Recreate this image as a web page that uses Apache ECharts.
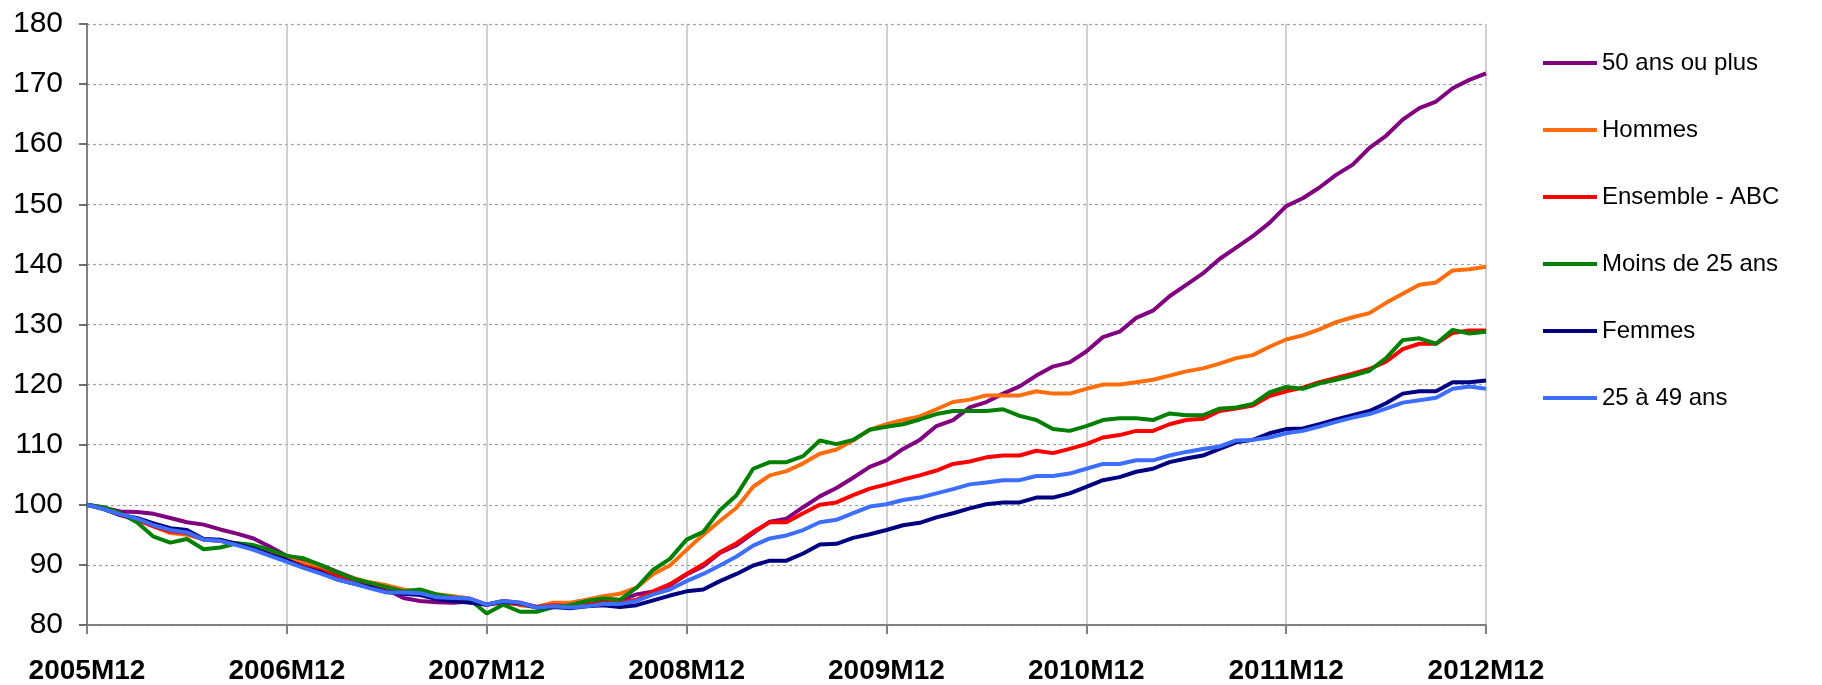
<!DOCTYPE html>
<html>
<head>
<meta charset="utf-8">
<script src="https://cdn.jsdelivr.net/npm/echarts@6/dist/echarts.min.js"></script>
<style>
  html, body { margin: 0; padding: 0; background: #fff; }
  #chart { width: 1822px; height: 685px; }
</style>
</head>
<body>
<div id="chart"></div>
<script>
// monthly labels 2005M12 .. 2012M12
var months = [];
for (var y = 2005, m = 12; months.length < 85; ) {
  months.push(y + 'M' + (m < 10 ? '0' + m : m));
  m++;
  if (m > 12) { m = 1; y++; }
}

var seriesNames = ['50 ans ou plus', 'Hommes', 'Ensemble - ABC', 'Moins de 25 ans', 'Femmes', '25 à 49 ans'];
var seriesColors = ['#800080', '#ff6d0d', '#ff0000', '#008000', '#000080', '#3c6eff'];

var plus50 = [
  100, 99.5, 98.9, 98.8, 98.5, 97.8, 97.1, 96.7, 95.9, 95.2, 94.4, 93.0, 91.5, 90.8, 90.0, 88.9, 87.8, 86.8, 85.9, 84.5, 84.0, 83.8, 83.7, 83.9,
  83.3, 84.0, 83.7, 83.0, 83.3, 83.1, 83.5, 83.9, 84.1, 85.1, 85.6, 86.6, 88.4, 89.8, 92.0, 93.3, 95.3, 97.2, 97.7, 99.6, 101.4,
  102.8, 104.5, 106.3, 107.4, 109.3, 110.8, 113.1, 114.1, 116.2, 117.1, 118.5, 119.7, 121.5, 123.0, 123.7, 125.5, 127.9, 128.8, 131.1, 132.3,
  134.7, 136.6, 138.5, 140.9, 142.8, 144.7, 146.9, 149.7, 151.0, 152.8, 154.9, 156.6, 159.4, 161.4, 164.1, 166.0, 167.1, 169.3, 170.7, 171.8
];
var hommes = [
  100, 99.4, 98.4, 97.6, 96.4, 95.3, 95.0, 94.3, 94.0, 93.6, 93.0, 92.0, 91.0, 90.3, 89.6, 88.7, 87.8, 87.1, 86.6, 85.9, 85.5, 85.1, 84.8, 84.4,
  83.4, 84.0, 83.3, 83.0, 83.7, 83.7, 84.2, 84.8, 85.2, 86.2, 88.5, 89.9, 92.5, 95.0, 97.3, 99.5, 103.0, 104.9, 105.6, 106.9, 108.5,
  109.2, 110.7, 112.5, 113.4, 114.1, 114.7, 115.9, 117.1, 117.5, 118.2, 118.2, 118.2, 118.9, 118.5, 118.5, 119.3, 120.0, 120.0, 120.4, 120.8,
  121.5, 122.2, 122.7, 123.5, 124.4, 124.9, 126.3, 127.5, 128.2, 129.2, 130.4, 131.2, 131.9, 133.6, 135.1, 136.6, 137.0, 139.0, 139.2, 139.6
];
var ensemble = [
  100, 99.4, 98.3, 97.5, 96.4, 95.6, 95.3, 94.2, 94.0, 93.5, 92.8, 91.8, 90.8, 89.8, 89.1, 88.2, 87.5, 86.7, 86.0, 85.6, 85.4, 84.9, 84.5, 84.2,
  83.4, 83.7, 83.5, 83.0, 83.3, 83.1, 83.4, 83.7, 83.7, 84.2, 85.6, 86.8, 88.5, 90.1, 92.1, 93.6, 95.5, 97.1, 97.1, 98.6, 100.0,
  100.4, 101.6, 102.7, 103.4, 104.2, 104.9, 105.7, 106.8, 107.2, 107.9, 108.2, 108.2, 109.0, 108.6, 109.3, 110.1, 111.2, 111.6, 112.3, 112.3,
  113.4, 114.1, 114.3, 115.6, 116.0, 116.5, 118.1, 118.9, 119.5, 120.4, 121.1, 121.8, 122.6, 123.8, 125.9, 126.8, 126.8, 128.6, 129.0, 129.0
];
var moins25 = [
  100, 99.6, 98.6, 97.1, 94.7, 93.7, 94.3, 92.6, 92.9, 93.6, 93.3, 92.5, 91.5, 91.1, 90.0, 88.8, 87.7, 87.0, 86.3, 85.6, 85.9, 85.1, 84.6, 84.2,
  81.9, 83.4, 82.2, 82.2, 83.0, 83.3, 84.0, 84.4, 84.2, 86.2, 89.2, 91.0, 94.2, 95.5, 99.1, 101.6, 106.0, 107.1, 107.1, 108.1, 110.7,
  110.1, 110.8, 112.5, 113.0, 113.4, 114.2, 115.1, 115.6, 115.6, 115.6, 115.9, 114.8, 114.1, 112.6, 112.3, 113.1, 114.1, 114.4, 114.4, 114.1,
  115.2, 114.9, 114.9, 116.0, 116.2, 116.8, 118.7, 119.6, 119.3, 120.2, 120.8, 121.5, 122.3, 124.4, 127.4, 127.7, 126.8, 129.1, 128.5, 128.8
];
var femmes = [
  100, 99.3, 98.3, 97.8, 96.9, 96.1, 95.8, 94.3, 94.2, 93.5, 92.7, 91.7, 90.8, 89.6, 88.8, 87.6, 86.9, 86.3, 85.5, 85.2, 85.0, 84.3, 84.0, 83.7,
  83.4, 83.9, 83.6, 82.9, 83.0, 82.8, 83.1, 83.3, 83.0, 83.3, 84.1, 84.9, 85.6, 85.9, 87.3, 88.5, 89.9, 90.7, 90.7, 91.9, 93.4,
  93.5, 94.5, 95.1, 95.8, 96.6, 97.0, 97.9, 98.6, 99.4, 100.1, 100.4, 100.4, 101.2, 101.2, 101.9, 103.0, 104.1, 104.6, 105.5, 106.0,
  107.1, 107.7, 108.2, 109.3, 110.4, 110.8, 111.9, 112.6, 112.7, 113.4, 114.2, 114.9, 115.6, 116.9, 118.5, 118.9, 118.9, 120.4, 120.4, 120.7
];
var age25a49 = [
  100, 99.3, 98.4, 97.7, 96.6, 95.8, 95.4, 94.2, 94.0, 93.3, 92.5, 91.5, 90.5, 89.5, 88.6, 87.6, 86.9, 86.1, 85.4, 85.4, 85.3, 84.6, 84.5, 84.4,
  83.4, 84.0, 83.7, 82.9, 83.1, 82.9, 83.1, 83.5, 83.5, 84.0, 85.1, 85.9, 87.3, 88.5, 89.9, 91.4, 93.2, 94.4, 94.9, 95.8, 97.1,
  97.5, 98.6, 99.7, 100.1, 100.8, 101.2, 101.9, 102.6, 103.4, 103.7, 104.1, 104.1, 104.8, 104.8, 105.2, 106.0, 106.8, 106.8, 107.4, 107.4,
  108.2, 108.8, 109.3, 109.7, 110.7, 110.8, 111.2, 111.9, 112.3, 113.0, 113.8, 114.5, 115.1, 116.0, 117.0, 117.4, 117.8, 119.3, 119.7, 119.3
];

var seriesData = [plus50, hommes, ensemble, moins25, femmes, age25a49];
var font = '"Liberation Sans", Arial, sans-serif';
var yearly = function (i) { return i % 12 === 0; };

var chart = echarts.init(document.getElementById('chart'));
chart.setOption({
  animation: false,
  backgroundColor: '#fff',
  color: seriesColors,
  grid: { left: 87, right: 336, top: 24, bottom: 54 },
  legend: {
    orient: 'vertical',
    left: 1538,
    top: 45,
    icon: 'rect',
    itemWidth: 54,
    itemHeight: 4,
    itemGap: 41,
    textStyle: { fontFamily: font, fontSize: 24, color: '#000', lineHeight: 26 },
    data: seriesNames
  },
  xAxis: {
    type: 'category',
    boundaryGap: false,
    data: months,
    axisLine: { lineStyle: { color: '#808080', width: 2 } },
    axisTick: { interval: yearly, length: 9, lineStyle: { color: '#808080', width: 2 } },
    axisLabel: {
      interval: yearly,
      margin: 32,
      fontFamily: font,
      fontSize: 28,
      fontWeight: 'bold',
      color: '#000'
    },
    splitLine: { show: true, interval: yearly, lineStyle: { color: '#c0c0c0', width: 1.5 } }
  },
  yAxis: {
    type: 'value',
    min: 80,
    max: 180,
    interval: 10,
    axisLine: { show: true, lineStyle: { color: '#808080', width: 2 } },
    axisTick: { show: true, length: 8, lineStyle: { color: '#404040', width: 1.5 } },
    axisLabel: { margin: 24, fontFamily: font, fontSize: 30, color: '#000' },
    splitLine: { lineStyle: { color: '#a0a0a0', width: 1.2, type: [3, 3] } }
  },
  series: seriesNames.map(function (name, i) {
    return {
      name: name,
      type: 'line',
      data: seriesData[i],
      symbol: 'none',
      lineStyle: { width: 4, color: seriesColors[i] },
      itemStyle: { color: seriesColors[i] }
    };
  })
});
</script>
</body>
</html>
